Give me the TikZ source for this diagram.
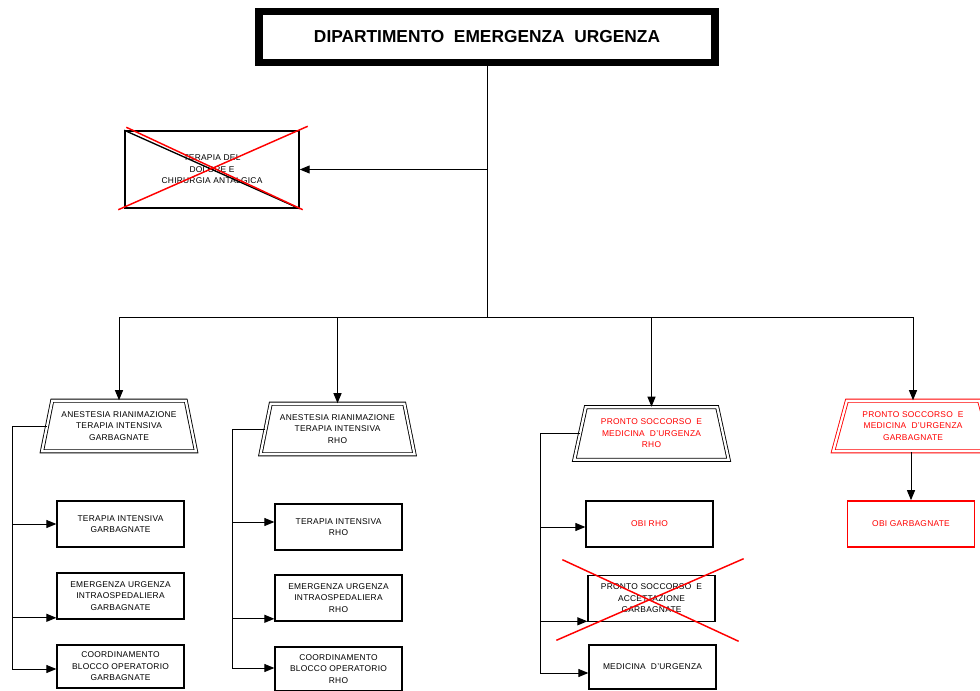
\documentclass[tikz,border=0pt]{standalone}
\usepackage{fontspec}
\setmainfont{Liberation Sans}
\usetikzlibrary{shapes.geometric,arrows.meta,calc}
\definecolor{rd}{RGB}{255,0,0}
\begin{document}
\begin{tikzpicture}[x=0.75pt,y=-0.75pt,
 lbl/.style={font=\fontsize{6.3}{8.6}\selectfont\addfontfeatures{LetterSpace=3}, align=center},
 box/.style={lbl, draw, line width=1.2pt, minimum width=95pt, minimum height=34.5pt, inner sep=0pt},
 rbox/.style={box, draw=rd, text=rd},
 trap/.style={lbl, trapezium, trapezium stretches=true, draw, double=white, double distance=1.7pt, line width=0.65pt, minimum width=116pt, minimum height=38pt, trapezium left angle=73, trapezium right angle=73, inner sep=0pt},
 rtrap/.style={trap, draw=rd, text=rd},
 conn/.style={line width=0.75pt},
 arr/.style={conn, -{Triangle[length=7.5pt,width=6pt]}},
 cross/.style={draw=rd, line width=1.1pt}]
\useasboundingbox (0,0) rectangle (980,691);

% title
\node[draw, line width=5.6pt, minimum width=342pt, minimum height=37.9pt, inner sep=0pt,
      font=\fontsize{13}{15}\selectfont\bfseries] (top) at (487,37) {DIPARTIMENTO\ \ EMERGENZA\ \ URGENZA};

% crossed-out box
\node[lbl, draw, line width=1.1pt, minimum width=130.5pt, minimum height=57.75pt, inner sep=0pt] (tdc) at (212,169.5)
  {TERAPIA DEL\\DOLORE E\\CHIRURGIA  ANTALGICA};
\draw[line width=1pt] (tdc.north west) -- (tdc.south east);
\draw[cross] ([shift={(2,-3)}]tdc.north west) -- ([shift={(3,1)}]tdc.south east);
\draw[cross] ([shift={(-6,1)}]tdc.south west) -- ([shift={(8,-4)}]tdc.north east);

% trapezoids
\node[trap] (t1) at (119,426) {ANESTESIA RIANIMAZIONE\\TERAPIA INTENSIVA\\GARBAGNATE};
\node[trap] (t2) at (337.5,429) {ANESTESIA RIANIMAZIONE\\TERAPIA INTENSIVA\\RHO};
\node[trap, text=rd, minimum height=39.5pt] (t3) at (651.5,433.5) {PRONTO SOCCORSO\ \ E\\MEDICINA\ \ D'URGENZA\\RHO};
\node[rtrap, trapezium left angle=70, trapezium right angle=70, minimum width=120pt] (t4) at (913,426) {PRONTO SOCCORSO\ \ E\\MEDICINA\ \ D'URGENZA\\GARBAGNATE};

% main connectors
\coordinate (bus) at (487,317);
\draw[conn] (top.south) -- (bus);
\draw[arr] (top.south |- tdc.east) -- (tdc.east);
\draw[conn] (t1.north |- bus) -- (t4.north |- bus);
\draw[arr] (t1.north |- bus) -- (t1.north);
\draw[arr] (t2.north |- bus) -- (t2.north);
\draw[arr] (t3.north |- bus) -- (t3.north);
\draw[arr] (t4.north |- bus) -- (t4.north);

% column 1
\node[box] (b11) at (120.5,524) {TERAPIA INTENSIVA\\GARBAGNATE};
\node[box] (b12) at (120.5,596) {EMERGENZA URGENZA\\INTRAOSPEDALIERA\\GARBAGNATE};
\node[box, minimum height=32.5pt] (b13) at (120.5,666.5) {COORDINAMENTO\\BLOCCO OPERATORIO\\GARBAGNATE};
\coordinate (c1) at (12,669);
\draw[conn] (t1.west) -| (c1);
\draw[arr] (c1 |- b11.west) -- (b11.west);
\coordinate (a12) at ([yshift=1.5pt]b12.south west);
\draw[arr] (c1 |- a12) -- (a12);
\draw[arr] (c1) -- (c1 -| b13.west);

% column 2
\node[box] (b21) at (338.5,527) {TERAPIA INTENSIVA\\RHO};
\node[box] (b22) at (338.5,598) {EMERGENZA URGENZA\\INTRAOSPEDALIERA\\RHO};
\node[box, minimum height=33pt] (b23) at (338.5,669) {COORDINAMENTO\\BLOCCO OPERATORIO\\RHO};
\coordinate (c2) at (232,668);
\draw[conn] (t2.west) -| (c2);
\coordinate (a21) at ([yshift=3.75pt]b21.west);
\draw[arr] (c2 |- a21) -- (a21);
\coordinate (a22) at ([yshift=2.25pt]b22.south west);
\draw[arr] (c2 |- a22) -- (a22);
\draw[arr] (c2) -- (c2 -| b23.west);

% column 3
\node[box, text=rd] (b31) at (649.5,524) {OBI RHO};
\node[box] (b32) at (651.5,598.5) {PRONTO SOCCORSO\ \ E\\ACCETTAZIONE\\GARBAGNATE};
\node[box, minimum height=33pt] (b33) at (652.5,667) {MEDICINA\ \ D'URGENZA};
\coordinate (c3) at (540,673);
\draw[conn] (t3.west) -| (c3);
\coordinate (a31) at ([yshift=-2.25pt]b31.west);
\draw[arr] (c3 |- a31) -- (a31);
\coordinate (a32) at ([yshift=0.75pt]b32.south west);
\draw[arr] (c3 |- a32) -- (a32);
\draw[arr] (c3) -- (c3 -| b33.west);
\draw[cross] ([shift={(-25,-15)}]b32.north west) -- ([shift={(23,19)}]b32.south east);
\draw[cross] ([shift={(-31,18)}]b32.south west) -- ([shift={(28,-16)}]b32.north east);

% column 4
\node[rbox] (b41) at (911,524) {OBI GARBAGNATE};
\draw[arr] (t4.south -| b41.north) -- (b41.north);
\end{tikzpicture}
\end{document}
